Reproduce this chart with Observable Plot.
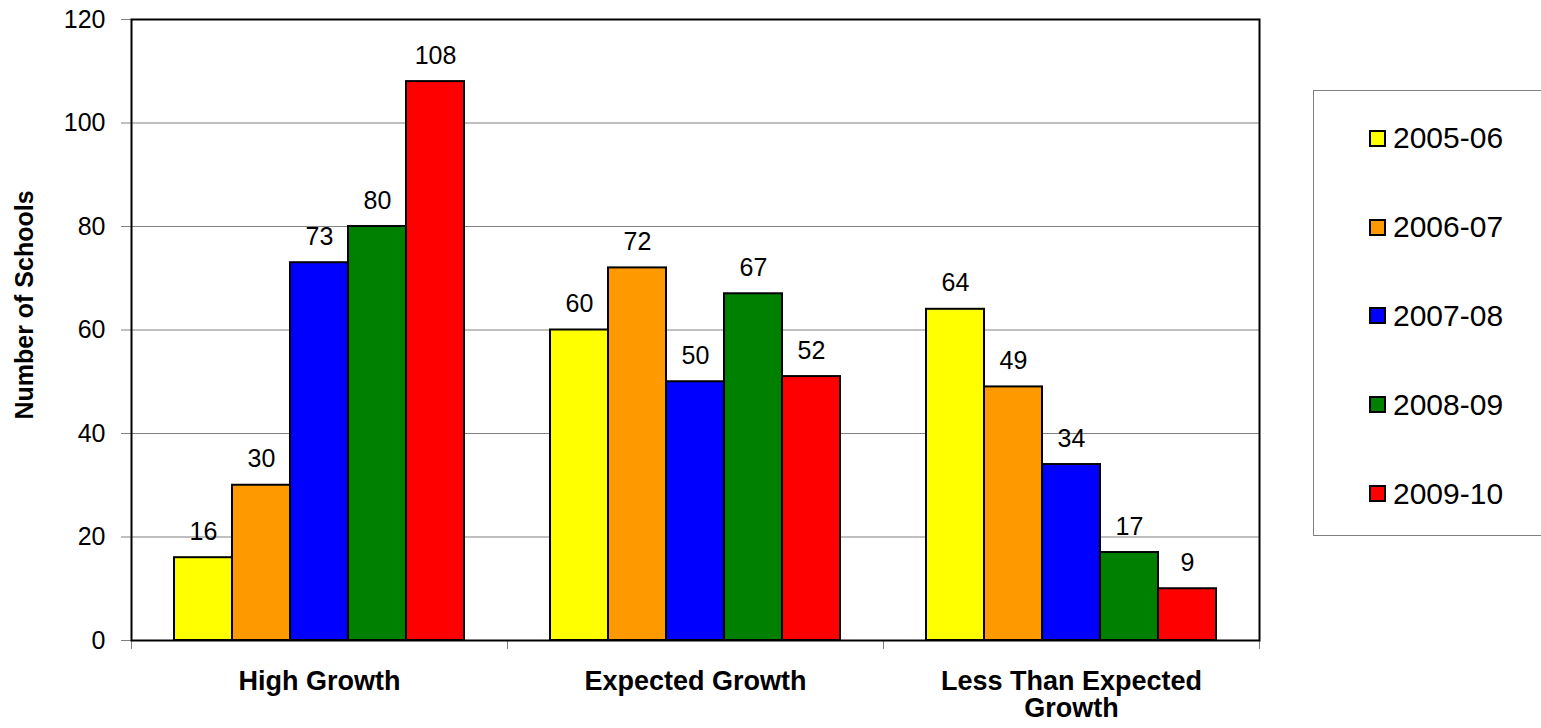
<!DOCTYPE html>
<html><head><meta charset="utf-8">
<script src="https://cdn.jsdelivr.net/npm/d3@7"></script>
<script src="https://cdn.jsdelivr.net/npm/@observablehq/plot@0.6"></script>
<style>
body{margin:0;background:#fff;font-family:"Liberation Sans",Arial,sans-serif}
#wrap{position:relative;width:1541px;height:728px;overflow:hidden}
#legend{position:absolute;left:1313px;top:90px;width:260px;height:446px;border:1px solid #808080;box-sizing:border-box;padding-top:3px}
.row{height:88.8px;display:flex;align-items:center;padding-left:55px;font-size:30px;color:#000}
.sw{width:13px;height:13px;border:2px solid #000;margin-right:7px;flex:none}
#ytitle{position:absolute;left:24px;top:305px;transform:translate(-50%,-50%) rotate(-90deg);font-weight:bold;font-size:25px;white-space:nowrap;color:#000}
#chart{position:absolute;left:0;top:0}
</style></head><body>
<div id="wrap"><div id="chart"></div><div id="ytitle">Number of Schools</div><div id="legend"></div></div>
<script>
const categories = ["High Growth", "Expected Growth", "Less Than Expected Growth"];
const years = ["2005-06", "2006-07", "2007-08", "2008-09", "2009-10"];
const colors = ["#FFFF00", "#FF9900", "#0000FF", "#008000", "#FF0000"];
// bar heights as drawn, per year, in category order
const values200506 = [16, 60, 64];
const values200607 = [30, 72, 49];
const values200708 = [73, 50, 34];
const values200809 = [80, 67, 17];
const values200910 = [108, 51, 10];
// data labels as printed
const labels200506 = ["16", "60", "64"];
const labels200607 = ["30", "72", "49"];
const labels200708 = ["73", "50", "34"];
const labels200809 = ["80", "67", "17"];
const labels200910 = ["108", "52", "9"];
const yTicks = [0, 20, 40, 60, 80, 100, 120];

const valueSets = [values200506, values200607, values200708, values200809, values200910];
const labelSets = [labels200506, labels200607, labels200708, labels200809, labels200910];
const table = [];
years.forEach((yr, i) => categories.forEach((cat, j) => {
  table.push({category: cat, year: yr, value: valueSets[i][j], label: labelSets[i][j]});
}));

const catLabel = {"Less Than Expected Growth": "Less Than Expected\nGrowth"};

const chart = Plot.plot({
  width: 1541, height: 728,
  marginLeft: 130, marginRight: 281, marginTop: 19, marginBottom: 88,
  style: {fontFamily: '"Liberation Sans", Arial, sans-serif', color: "#000", background: "transparent"},
  fx: {domain: categories, padding: 0, label: null},
  x: {domain: years, paddingInner: 0, paddingOuter: 0.74, axis: null},
  y: {domain: [0, 120], label: null},
  color: {domain: years, range: colors},
  marks: [
    Plot.gridY(yTicks.slice(1, -1), {stroke: "#808080", strokeOpacity: 1, strokeWidth: 1}),
    Plot.barY(table, {fx: "category", x: "year", y: "value", fill: "year", stroke: "#000", strokeWidth: 2}),
    Plot.text(table, {fx: "category", x: "year", y: "value", text: "label", lineAnchor: "bottom", dy: -18, fontSize: 25, fill: "#000"}),
    Plot.axisY(yTicks, {tickSize: 10, tickPadding: 16, stroke: "#808080", fill: "#000", fontSize: 25, label: null}),
    Plot.axisFx({anchor: "bottom", tickSize: 0, tickPadding: 30, fontSize: 27, fontWeight: "bold", lineHeight: 1.0, fill: "#000", label: null, tickFormat: d => catLabel[d] ?? d}),
    Plot.frame({anchor: "left", stroke: "#808080", insetTop: 621, insetBottom: -8}),
    Plot.frame({anchor: "right", stroke: "#808080", insetTop: 621, insetBottom: -8}),
    Plot.frame({facet: "super", stroke: "#000", strokeWidth: 2})
  ]
});
document.getElementById("chart").appendChild(chart);
d3.select(chart).selectAll('[aria-label="fx-axis tick label"] text').style("font-weight", "bold");

const legend = d3.select("#legend");
years.forEach((yr, i) => {
  const row = legend.append("div").attr("class", "row");
  row.append("div").attr("class", "sw").style("background", colors[i]);
  row.append("span").text(yr);
});
</script>
</body></html>
